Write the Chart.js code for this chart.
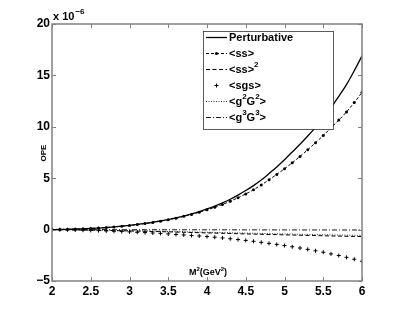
<!DOCTYPE html>
<html><head><meta charset="utf-8">
<script src="https://cdn.jsdelivr.net/npm/chart.js@4/dist/chart.umd.min.js"></script>
<style>html,body{margin:0;padding:0;background:#fff}canvas{display:block}</style>
</head><body>
<canvas id="c" width="400" height="316"></canvas>
<script>
// ---- data (units of 1e-6) ----
const M2 = [2.0,2.1,2.2,2.3,2.4,2.5,2.6,2.7,2.8,2.9,3.0,3.1,3.2,3.3,3.4,3.5,3.6,3.7,3.8,3.9,
            4.0,4.1,4.2,4.3,4.4,4.5,4.6,4.7,4.8,4.9,5.0,5.1,5.2,5.3,5.4,5.5,5.6,5.7,5.8,5.9,6.0];
const M2coarse = [2.0,2.5,3.0,3.5,4.0,4.5,5.0,5.5,6.0];
const perturbative = [0,0.01,0.03,0.05,0.08,0.11,0.15,0.2,0.26,0.33,0.41,0.5,0.6,0.71,0.84,0.98,1.14,1.32,1.53,1.76,
            2.01,2.29,2.6,2.95,3.36,3.8,4.28,4.82,5.45,6.1,6.8,7.55,8.3,9.1,9.95,10.85,11.85,12.95,14.1,15.45,16.9];
const ss = [0,0.01,0.03,0.05,0.08,0.11,0.15,0.2,0.26,0.33,0.4,0.49,0.59,0.7,0.82,0.96,1.11,1.29,1.48,1.69,
            1.92,2.17,2.45,2.76,3.1,3.47,3.88,4.34,4.85,5.37,5.92,6.5,7.12,7.77,8.45,9.15,9.9,10.65,11.45,12.36,13.35];
const sgs = [0,-0.01,-0.02,-0.04,-0.06,-0.08,-0.1,-0.13,-0.16,-0.19,-0.22,-0.26,-0.29,-0.33,-0.37,-0.42,-0.47,-0.52,-0.57,-0.62,
            -0.68,-0.74,-0.81,-0.89,-0.97,-1.05,-1.14,-1.24,-1.34,-1.44,-1.55,-1.67,-1.79,-1.92,-2.06,-2.2,-2.36,-2.52,-2.7,-2.88,-3.08];
const ss2  = [0,-0.05,-0.13,-0.22,-0.32,-0.42,-0.51,-0.6,-0.68];
const g2G2 = [0,-0.04,-0.1,-0.18,-0.26,-0.34,-0.42,-0.5,-0.57];
const g3G3 = [0,-0.005,-0.01,-0.015,-0.02,-0.025,-0.03,-0.035,-0.04];
const seriesNames = ['Perturbative','<ss>','<ss>²','<sgs>','<g²G²>','<g³G³>'];
const xTickValues = [2,2.5,3,3.5,4,4.5,5,5.5,6];
const xTickLabels = ['2','2.5','3','3.5','4','4.5','5','5.5','6'];
const yTickValues = [-5,0,5,10,15,20];
const yTickLabels = ['\u22125','0','5','10','15','20'];
const xTitle = 'M²(GeV²)';
const yTitle = 'OPE';
const scaleNote = 'x 10';
const scaleExp = '\u22126';

const FONT = '"Liberation Sans", Arial, Helvetica, sans-serif';
const pts = (xs, ys) => xs.map((x, i) => ({x, y: ys[i]}));

function richWidth(ctx, text, size) {
  let w = 0;
  for (const ch of text) {
    if (ch === '²' || ch === '³') { ctx.font = 'bold ' + Math.round(size*0.72) + 'px ' + FONT; w += ctx.measureText(ch === '²' ? '2' : '3').width; }
    else { ctx.font = 'bold ' + size + 'px ' + FONT; w += ctx.measureText(ch).width; }
  }
  return w;
}
function drawRich(ctx, text, x, y, size) {
  ctx.textBaseline = 'middle'; ctx.textAlign = 'left';
  let cx = x;
  for (const ch of text) {
    if (ch === '²' || ch === '³') {
      ctx.font = 'bold ' + Math.round(size*0.72) + 'px ' + FONT;
      const c = ch === '²' ? '2' : '3';
      ctx.fillText(c, cx, y - size*0.45); cx += ctx.measureText(c).width;
    } else {
      ctx.font = 'bold ' + size + 'px ' + FONT;
      ctx.fillText(ch, cx, y); cx += ctx.measureText(ch).width;
    }
  }
}

const framePlugin = {
  id: 'frame',
  afterDatasetsDraw(chart) {
    const {ctx, chartArea: a, scales: {x, y}} = chart;
    ctx.save();
    ctx.setLineDash([]);
    ctx.strokeStyle = '#808080';
    ctx.lineWidth = 1.5;
    ctx.strokeRect(a.left, a.top, a.right - a.left, a.bottom - a.top);
    ctx.lineWidth = 1;
    const tl = 4;
    ctx.beginPath();
    x.ticks.forEach(t => {
      const p = Math.round(x.getPixelForValue(t.value)) + 0.5;
      ctx.moveTo(p, a.bottom); ctx.lineTo(p, a.bottom - tl);
      ctx.moveTo(p, a.top); ctx.lineTo(p, a.top + tl);
    });
    y.ticks.forEach(t => {
      const p = Math.round(y.getPixelForValue(t.value)) + 0.5;
      ctx.moveTo(a.left, p); ctx.lineTo(a.left + tl, p);
      ctx.moveTo(a.right, p); ctx.lineTo(a.right - tl, p);
    });
    ctx.stroke();
    ctx.restore();
  },
  afterDraw(chart) {
    const {ctx} = chart;
    ctx.save();
    ctx.fillStyle = '#000';
    ctx.font = 'bold 11px ' + FONT; ctx.textBaseline = 'alphabetic'; ctx.textAlign = 'left';
    ctx.fillText(scaleNote, 53, 20);
    const w = ctx.measureText(scaleNote).width;
    ctx.font = 'bold 8px ' + FONT;
    ctx.fillText(scaleExp, 53 + w + 1, 14);
    const xs = 9;
    const xw = richWidth(ctx, xTitle, xs);
    drawRich(ctx, xTitle, 208 - xw/2, 273, xs);
    ctx.save();
    ctx.translate(44, 153); ctx.rotate(-Math.PI/2);
    ctx.font = 'bold 8px ' + FONT; ctx.textAlign = 'center'; ctx.textBaseline = 'middle';
    ctx.fillText(yTitle, 0, 0);
    ctx.restore();
    const L = 203, T = 31, R = 333, B = 129;
    ctx.fillStyle = '#fff'; ctx.fillRect(L, T, R - L, B - T);
    ctx.strokeStyle = '#333'; ctx.lineWidth = 0.8; ctx.setLineDash([]);
    ctx.strokeRect(L + 0.5, T + 0.5, R - L, B - T);
    const rows = [37, 53, 69, 85, 101, 117];
    chart.data.datasets.forEach((ds, i) => {
      const yy = rows[i] + 0.5;
      ctx.strokeStyle = '#000'; ctx.fillStyle = '#000';
      if (ds.showLine !== false) {
        ctx.lineWidth = ds.borderWidth; ctx.setLineDash(ds.borderDash || []);
        ctx.beginPath(); ctx.moveTo(206, yy); ctx.lineTo(227, yy); ctx.stroke();
      }
      ctx.setLineDash([]);
      if (ds.pointRadius > 0) {
        const cx = 216.5;
        if (ds.pointStyle === 'cross') {
          ctx.lineWidth = 1; ctx.beginPath();
          ctx.moveTo(cx - ds.pointRadius, yy); ctx.lineTo(cx + ds.pointRadius, yy);
          ctx.moveTo(cx, yy - ds.pointRadius); ctx.lineTo(cx, yy + ds.pointRadius); ctx.stroke();
        } else {
          ctx.beginPath(); ctx.arc(cx, yy, ds.pointRadius, 0, Math.PI*2); ctx.fill();
        }
      }
      ctx.fillStyle = '#000';
      drawRich(ctx, ds.label, 229, rows[i] + 1, 11);
    });
    ctx.restore();
  }
};

const common = {borderColor: '#000', backgroundColor: '#000', fill: false, cubicInterpolationMode: 'monotone'};
new Chart(document.getElementById('c'), {
  type: 'line',
  data: {
    datasets: [
      {...common, label: seriesNames[0], data: pts(M2, perturbative), borderWidth: 1.3, pointRadius: 0},
      {...common, label: seriesNames[1], data: pts(M2, ss), borderWidth: 1, borderDash: [3, 2], pointRadius: 1.5, pointStyle: 'circle', pointBorderWidth: 0},
      {...common, label: seriesNames[2], data: pts(M2coarse, ss2), borderWidth: 1, borderDash: [4, 2.5], pointRadius: 0},
      {...common, label: seriesNames[3], data: pts(M2, sgs), showLine: false, pointRadius: 2, pointStyle: 'cross', pointBorderWidth: 1},
      {...common, label: seriesNames[4], data: pts(M2coarse, g2G2), borderWidth: 0.8, borderDash: [1, 1.5], pointRadius: 0},
      {...common, label: seriesNames[5], data: pts(M2coarse, g3G3), borderWidth: 0.9, borderDash: [5, 2, 1, 2], pointRadius: 0}
    ]
  },
  options: {
    responsive: false, animation: false, devicePixelRatio: 1,
    layout: {padding: {left: 0, top: 24, right: 38, bottom: 0}},
    plugins: {legend: {display: false}, tooltip: {enabled: false}},
    scales: {
      x: {
        type: 'linear', min: 2, max: 6,
        grid: {display: false, drawTicks: false}, border: {display: false},
        afterBuildTicks: s => { s.ticks = xTickValues.map(v => ({value: v})); },
        afterFit: s => { s.height = 35; },
        ticks: {padding: 3, color: '#000', maxRotation: 0, autoSkip: false,
          font: {family: FONT, weight: 'bold', size: 12},
          callback: (v) => { const i = xTickValues.indexOf(v); return i >= 0 ? xTickLabels[i] : ''; }}
      },
      y: {
        type: 'linear', min: -5, max: 20,
        grid: {display: false, drawTicks: false}, border: {display: false},
        afterBuildTicks: s => { s.ticks = yTickValues.map(v => ({value: v})); },
        afterFit: s => { s.width = 52; },
        ticks: {padding: 2, color: '#000', autoSkip: false,
          font: {family: FONT, weight: 'bold', size: 12},
          callback: (v) => { const i = yTickValues.indexOf(v); return i >= 0 ? yTickLabels[i] : ''; }}
      }
    }
  },
  plugins: [framePlugin]
});
</script>
</body></html>
